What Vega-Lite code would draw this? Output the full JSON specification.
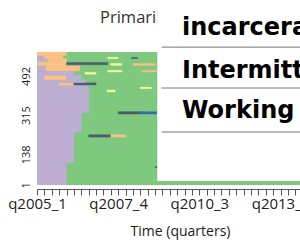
{
  "$schema": "https://vega.github.io/schema/vega-lite/v6.json",
  "autosize": {"type": "none"},
  "width": 263,
  "height": 133,
  "padding": {"left": 37, "top": 52, "right": 0, "bottom": 61},
  "background": "white",
  "config": {"view": {"stroke": null}, "font": "Open Sans"},
  "resolve": {"axis": {"x": "independent", "y": "independent"}},
  "datasets": {
    "cells": [
      {"r0": 0, "r1": 600, "q0": 0, "q1": 40, "s": "Working"},
      {"r0": 0, "r1": 100, "q0": 0, "q1": 4, "s": "Incarcerated"},
      {"r0": 100, "r1": 239, "q0": 0, "q1": 5, "s": "Incarcerated"},
      {"r0": 239, "r1": 325, "q0": 0, "q1": 6, "s": "Incarcerated"},
      {"r0": 325, "r1": 437, "q0": 0, "q1": 7, "s": "Incarcerated"},
      {"r0": 78, "r1": 84, "q0": 16, "q1": 18, "s": "Other"},
      {"r0": 216, "r1": 227, "q0": 7, "q1": 10, "s": "Other"},
      {"r0": 216, "r1": 227, "q0": 10, "q1": 12, "s": "Not working"},
      {"r0": 320, "r1": 331, "q0": 11, "q1": 14, "s": "Other"},
      {"r0": 320, "r1": 331, "q0": 14, "q1": 16.2, "s": "Training"},
      {"r0": 420, "r1": 428, "q0": 9.5, "q1": 10.6, "s": "Education"},
      {"r0": 437, "r1": 450, "q0": 0, "q1": 7, "s": "Incarcerated"},
      {"r0": 435, "r1": 441, "q0": 14, "q1": 15.5, "s": "Education"},
      {"r0": 450, "r1": 462, "q0": 0, "q1": 3, "s": "Incarcerated"},
      {"r0": 450, "r1": 462, "q0": 3, "q1": 5, "s": "Not working"},
      {"r0": 451, "r1": 461, "q0": 5, "q1": 8, "s": "Other"},
      {"r0": 462, "r1": 475, "q0": 0, "q1": 6.5, "s": "Incarcerated"},
      {"r0": 475, "r1": 495, "q0": 0, "q1": 1, "s": "Incarcerated"},
      {"r0": 475, "r1": 495, "q0": 1, "q1": 4, "s": "Not working"},
      {"r0": 475, "r1": 495, "q0": 4, "q1": 6, "s": "Incarcerated"},
      {"r0": 495, "r1": 515, "q0": 0, "q1": 5, "s": "Incarcerated"},
      {"r0": 500, "r1": 508, "q0": 6.5, "q1": 8, "s": "Education"},
      {"r0": 510, "r1": 517, "q0": 9.6, "q1": 11.5, "s": "Education"},
      {"r0": 510, "r1": 517, "q0": 14.2, "q1": 16.2, "s": "Not working"},
      {"r0": 515, "r1": 538, "q0": 0, "q1": 1.2, "s": "Incarcerated"},
      {"r0": 515, "r1": 538, "q0": 1.2, "q1": 5.8, "s": "Not working"},
      {"r0": 538, "r1": 556, "q0": 0, "q1": 4, "s": "Not working"},
      {"r0": 542, "r1": 553, "q0": 4, "q1": 9.6, "s": "Other"},
      {"r0": 540, "r1": 548, "q0": 10, "q1": 11.5, "s": "Education"},
      {"r0": 540, "r1": 548, "q0": 13, "q1": 16, "s": "Not working"},
      {"r0": 556, "r1": 570, "q0": 0, "q1": 1.5, "s": "Incarcerated"},
      {"r0": 556, "r1": 570, "q0": 1.5, "q1": 4, "s": "Not working"},
      {"r0": 570, "r1": 585, "q0": 0, "q1": 1, "s": "Incarcerated"},
      {"r0": 570, "r1": 585, "q0": 1, "q1": 3.5, "s": "Not working"},
      {"r0": 570, "r1": 576, "q0": 9.6, "q1": 11, "s": "Education"},
      {"r0": 570, "r1": 576, "q0": 12.8, "q1": 13.6, "s": "Other"},
      {"r0": 585, "r1": 600, "q0": 0, "q1": 4, "s": "Not working"}
    ],
    "heading": [
      {"t": "Primarily working", "q": 8.54, "r": 731}
    ],
    "rows": [
      {"r": 622},
      {"r": 437.5},
      {"r": 239}
    ],
    "labels": [
      {"t": "incarcerated", "r": 676.6},
      {"t": "Intermittently", "r": 482.6},
      {"t": "Working", "r": 302.2}
    ]
  },
  "layer": [
    {
      "data": {"name": "cells"},
      "mark": {"type": "rect", "clip": true, "strokeWidth": 0.4},
      "encoding": {
        "x": {
          "field": "q0", "type": "quantitative",
          "scale": {"domain": [0, 35.64], "nice": false, "zero": false},
          "axis": {
            "title": "Time (quarters)",
            "values": [0,1,2,3,4,5,6,7,8,9,10,11,12,13,14,15,16,17,18,19,20,21,22,23,24,25,26,27,28,29,30,31,32,33,34,35],
            "labelExpr": "datum.value % 11 === 0 ? 'q' + (2005 + floor(datum.value / 4)) + '_' + (datum.value % 4 + 1) : ''",
            "labelOverlap": false,
            "labelFlush": false,
            "labelBound": false,
            "grid": false,
            "offset": 4,
            "tickSize": 6,
            "tickColor": "#555",
            "domainColor": "#555",
            "labelFontSize": 15,
            "labelColor": "#222",
            "labelPadding": 1,
            "titleFontSize": 14,
            "titleFontWeight": "normal",
            "titleColor": "#222",
            "titlePadding": 13,
            "titleX": 143
          }
        },
        "x2": {"field": "q1"},
        "y": {
          "field": "r0", "type": "quantitative",
          "scale": {"domain": [0, 600], "nice": false, "zero": false},
          "axis": {
            "title": null,
            "values": [1, 138, 315, 492],
            "grid": false,
            "domain": false,
            "ticks": false,
            "tickSize": 0,
            "labelAngle": 270,
            "labelAlign": "center",
            "labelBaseline": "bottom",
            "labelPadding": 6,
            "labelFontSize": 11,
            "labelColor": "#222"
          }
        },
        "y2": {"field": "r1"},
        "color": {
          "field": "s", "type": "nominal",
          "scale": {"domain": ["Working", "Incarcerated", "Not working", "Education", "Training", "Other"], "range": ["#7FC97F", "#BEAED4", "#FDC086", "#FFFF99", "#386CB0", "#4B5D6E"]},
          "legend": null
        },
        "stroke": {
          "field": "s", "type": "nominal",
          "scale": {"domain": ["Working", "Incarcerated", "Not working", "Education", "Training", "Other"], "range": ["#7FC97F", "#BEAED4", "#FDC086", "#FFFF99", "#386CB0", "#4B5D6E"]},
          "legend": null
        }
      }
    },
    {
      "data": {"name": "heading"},
      "mark": {"type": "text", "align": "left", "baseline": "alphabetic", "fontSize": 16.5, "font": "Open Sans", "color": "#333"},
      "encoding": {
        "x": {"field": "q", "type": "quantitative", "axis": null},
        "y": {"field": "r", "type": "quantitative", "axis": null},
        "text": {"field": "t"}
      }
    },
    {
      "data": {"values": [{"q0": 16.3, "q1": 40, "r0": 18, "r1": 900}]},
      "mark": {"type": "rect", "color": "white"},
      "encoding": {
        "x": {"field": "q0", "type": "quantitative", "axis": null},
        "x2": {"field": "q1"},
        "y": {"field": "r0", "type": "quantitative", "axis": null},
        "y2": {"field": "r1"}
      }
    },
    {
      "data": {"name": "rows"},
      "mark": {"type": "rule", "color": "#777", "strokeWidth": 1},
      "encoding": {
        "x": {"datum": 16.9, "type": "quantitative", "axis": null},
        "x2": {"datum": 40},
        "y": {"field": "r", "type": "quantitative", "axis": null}
      }
    },
    {
      "data": {"name": "labels"},
      "mark": {"type": "text", "align": "left", "baseline": "alphabetic", "font": "DejaVu Sans", "fontWeight": "bold", "fontSize": 24, "color": "black"},
      "encoding": {
        "x": {"datum": 19.65, "type": "quantitative", "axis": null},
        "y": {"field": "r", "type": "quantitative", "axis": null},
        "text": {"field": "t"}
      }
    }
  ]
}
